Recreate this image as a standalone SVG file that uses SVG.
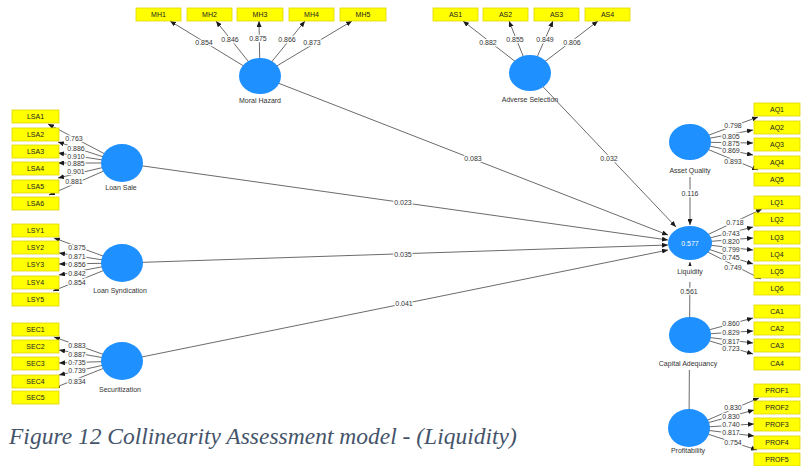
<svg xmlns="http://www.w3.org/2000/svg" width="811" height="466" viewBox="0 0 811 466">
<style>
  .ln { stroke: #5a5a5a; stroke-width: 0.9; fill: none; marker-end: url(#tip); }
  .val { font-family: "Liberation Sans", Arial, sans-serif; font-size: 7px; fill: #333; text-anchor: middle; stroke: #fff; stroke-width: 2.6; paint-order: stroke; }
  .ind rect { fill: #ffff00; stroke: #e0d400; stroke-width: 0.8; }
  .ind text { font-family: "Liberation Sans", Arial, sans-serif; font-size: 7px; fill: #222; text-anchor: middle; }
  .lv ellipse { fill: #1e90ff; }
  .lv text { font-family: "Liberation Sans", Arial, sans-serif; font-size: 7px; fill: #333; text-anchor: middle; }
  .lv rect { fill: #fff; }
  .cap { font-family: "Liberation Serif", "Times New Roman", serif; font-style: italic; font-size: 23.5px; fill: #44546a; }
</style>
<defs>
  <marker id="tip" markerUnits="userSpaceOnUse" markerWidth="6" markerHeight="5" refX="6" refY="2.5" orient="auto">
    <path d="M0,0 L6,2.5 L0,5 z" fill="#1a1a1a"/>
  </marker>
</defs>
<rect width="811" height="466" fill="#fff"/>

<g id="connectors">
  <!-- Moral Hazard indicators -->
  <line class="ln" x1="260" y1="76" x2="170" y2="21"/>
  <line class="ln" x1="260" y1="76" x2="216" y2="21"/>
  <line class="ln" x1="260" y1="76" x2="259" y2="21"/>
  <line class="ln" x1="260" y1="76" x2="305" y2="21"/>
  <line class="ln" x1="260" y1="76" x2="352" y2="21"/>
  <!-- Adverse Selection indicators -->
  <line class="ln" x1="530" y1="73" x2="463" y2="21"/>
  <line class="ln" x1="530" y1="73" x2="509" y2="21"/>
  <line class="ln" x1="530" y1="73" x2="553" y2="21"/>
  <line class="ln" x1="530" y1="73" x2="598" y2="21"/>
  <!-- Loan Sale indicators -->
  <line class="ln" x1="122" y1="163" x2="48" y2="124"/>
  <line class="ln" x1="122" y1="163" x2="58" y2="142"/>
  <line class="ln" x1="122" y1="163" x2="58" y2="153"/>
  <line class="ln" x1="122" y1="163" x2="58" y2="163"/>
  <line class="ln" x1="122" y1="163" x2="58" y2="178"/>
  <line class="ln" x1="122" y1="163" x2="49" y2="195"/>
  <!-- Loan Syndication indicators -->
  <line class="ln" x1="122" y1="263" x2="54" y2="238"/>
  <line class="ln" x1="122" y1="263" x2="59" y2="253"/>
  <line class="ln" x1="122" y1="263" x2="59" y2="264"/>
  <line class="ln" x1="122" y1="263" x2="59" y2="275"/>
  <line class="ln" x1="122" y1="263" x2="53" y2="291"/>
  <!-- Securitization indicators -->
  <line class="ln" x1="122" y1="361" x2="54" y2="337"/>
  <line class="ln" x1="122" y1="361" x2="59" y2="350"/>
  <line class="ln" x1="122" y1="361" x2="59" y2="363"/>
  <line class="ln" x1="122" y1="361" x2="59" y2="375"/>
  <line class="ln" x1="122" y1="361" x2="54" y2="388"/>
  <!-- Asset Quality indicators -->
  <line class="ln" x1="690" y1="142" x2="758" y2="117"/>
  <line class="ln" x1="690" y1="142" x2="753" y2="130"/>
  <line class="ln" x1="690" y1="142" x2="753" y2="143"/>
  <line class="ln" x1="690" y1="142" x2="753" y2="155"/>
  <line class="ln" x1="690" y1="142" x2="758" y2="170"/>
  <!-- Liquidity indicators -->
  <line class="ln" x1="690" y1="243" x2="762" y2="209"/>
  <line class="ln" x1="690" y1="243" x2="753" y2="227"/>
  <line class="ln" x1="690" y1="243" x2="753" y2="238"/>
  <line class="ln" x1="690" y1="243" x2="753" y2="250"/>
  <line class="ln" x1="690" y1="243" x2="753" y2="264"/>
  <line class="ln" x1="690" y1="243" x2="761" y2="279"/>
  <!-- Capital Adequancy indicators -->
  <line class="ln" x1="690" y1="335" x2="753" y2="318"/>
  <line class="ln" x1="690" y1="335" x2="753" y2="331"/>
  <line class="ln" x1="690" y1="335" x2="753" y2="343"/>
  <line class="ln" x1="690" y1="335" x2="753" y2="354"/>
  <!-- Profitability indicators -->
  <line class="ln" x1="689" y1="428" x2="759" y2="398"/>
  <line class="ln" x1="689" y1="428" x2="754" y2="410"/>
  <line class="ln" x1="689" y1="428" x2="754" y2="424"/>
  <line class="ln" x1="689" y1="428" x2="754" y2="436"/>
  <line class="ln" x1="689" y1="428" x2="757" y2="450"/>
  <!-- structural paths into Liquidity -->
  <line class="ln" x1="260" y1="76" x2="668" y2="235"/>
  <line class="ln" x1="530" y1="73" x2="676" y2="227"/>
  <line class="ln" x1="122" y1="163" x2="668" y2="240"/>
  <line class="ln" x1="122" y1="263" x2="668" y2="245"/>
  <line class="ln" x1="122" y1="361" x2="668" y2="250"/>
  <line class="ln" x1="690" y1="150" x2="690" y2="225"/>
  <line class="ln" x1="689" y1="428" x2="690" y2="262"/>

  <!-- path coefficients and loadings -->
  <text class="val" x="204" y="44.5">0.854</text>
  <text class="val" x="230" y="41.5">0.846</text>
  <text class="val" x="258" y="40.5">0.875</text>
  <text class="val" x="287" y="41.5">0.866</text>
  <text class="val" x="312" y="44.5">0.873</text>

  <text class="val" x="488" y="44.5">0.882</text>
  <text class="val" x="515" y="41.5">0.855</text>
  <text class="val" x="545" y="41.5">0.849</text>
  <text class="val" x="572" y="44.5">0.806</text>

  <text class="val" x="74" y="140.5">0.763</text>
  <text class="val" x="76" y="150.5">0.886</text>
  <text class="val" x="76" y="158.5">0.910</text>
  <text class="val" x="76" y="165.5">0.885</text>
  <text class="val" x="76" y="173.5">0.901</text>
  <text class="val" x="74" y="183.5">0.881</text>

  <text class="val" x="77" y="249.5">0.875</text>
  <text class="val" x="77" y="258.5">0.871</text>
  <text class="val" x="77" y="266.5">0.856</text>
  <text class="val" x="77" y="275.5">0.842</text>
  <text class="val" x="77" y="284.5">0.854</text>

  <text class="val" x="77" y="347.5">0.883</text>
  <text class="val" x="77" y="356.5">0.887</text>
  <text class="val" x="77" y="364.5">0.735</text>
  <text class="val" x="77" y="372.5">0.739</text>
  <text class="val" x="77" y="383.5">0.834</text>

  <text class="val" x="733" y="127.5">0.798</text>
  <text class="val" x="731" y="138.5">0.805</text>
  <text class="val" x="731" y="145.5">0.875</text>
  <text class="val" x="731" y="152.5">0.869</text>
  <text class="val" x="733" y="163.5">0.893</text>

  <text class="val" x="735" y="224.5">0.718</text>
  <text class="val" x="731" y="235.5">0.743</text>
  <text class="val" x="731" y="243.5">0.820</text>
  <text class="val" x="731" y="251.5">0.799</text>
  <text class="val" x="731" y="259.5">0.745</text>
  <text class="val" x="733" y="269.5">0.749</text>

  <text class="val" x="731" y="325.5">0.860</text>
  <text class="val" x="731" y="334.5">0.829</text>
  <text class="val" x="731" y="343.5">0.817</text>
  <text class="val" x="731" y="350.5">0.723</text>

  <text class="val" x="733" y="409.5">0.830</text>
  <text class="val" x="731" y="418.5">0.830</text>
  <text class="val" x="731" y="426.5">0.740</text>
  <text class="val" x="731" y="434.5">0.817</text>
  <text class="val" x="733" y="444.5">0.754</text>

  <text class="val" x="473" y="160.5">0.083</text>
  <text class="val" x="609" y="160.5">0.032</text>
  <text class="val" x="403" y="204.5">0.023</text>
  <text class="val" x="403" y="256.5">0.035</text>
  <text class="val" x="404" y="305.5">0.041</text>
  <text class="val" x="690" y="195.5">0.116</text>
  <text class="val" x="689" y="293.5">0.561</text>
</g>

<!-- latent variables -->
<g id="moral-hazard" class="lv">
  <ellipse cx="260" cy="76" rx="21" ry="18"/>
  <text x="260" y="102.5">Moral Hazard</text>
</g>
<g id="adverse-selection" class="lv">
  <ellipse cx="530" cy="73" rx="21" ry="18"/>
  <text x="530" y="101.5">Adverse Selection</text>
</g>
<g id="loan-sale" class="lv">
  <ellipse cx="122" cy="163" rx="21" ry="19"/>
  <text x="121" y="189.5">Loan Sale</text>
</g>
<g id="loan-syndication" class="lv">
  <ellipse cx="122" cy="263" rx="21" ry="19"/>
  <text x="120" y="292.5">Loan Syndication</text>
</g>
<g id="securitization" class="lv">
  <ellipse cx="122" cy="361" rx="21" ry="19"/>
  <text x="120" y="391.5">Securitization</text>
</g>
<g id="asset-quality" class="lv">
  <ellipse cx="690" cy="142" rx="21" ry="18"/>
  <rect x="665" y="160" width="50" height="17"/>
  <text x="690" y="172.5">Asset Quality</text>
</g>
<g id="liquidity" class="lv">
  <ellipse cx="690" cy="243" rx="22" ry="17"/>
  <text x="690" y="245.5" style="fill:#fff">0.577</text>
  <rect x="672" y="266" width="36" height="16"/>
  <text x="690" y="273.5">Liquidity</text>
</g>
<g id="capital-adequancy" class="lv">
  <ellipse cx="690" cy="335" rx="21" ry="18"/>
  <rect x="656" y="353" width="66" height="17"/>
  <text x="688" y="365.5">Capital Adequancy</text>
</g>
<g id="profitability" class="lv">
  <ellipse cx="689" cy="428" rx="21" ry="19"/>
  <text x="688" y="452.5">Profitability</text>
</g>

<!-- indicators -->
<g id="MH1" class="ind"><rect x="136" y="8" width="45" height="13"/><text x="158.5" y="17">MH1</text></g>
<g id="MH2" class="ind"><rect x="187" y="8" width="45" height="13"/><text x="209.5" y="17">MH2</text></g>
<g id="MH3" class="ind"><rect x="237" y="8" width="46" height="13"/><text x="260" y="17">MH3</text></g>
<g id="MH4" class="ind"><rect x="289" y="8" width="45" height="13"/><text x="311.5" y="17">MH4</text></g>
<g id="MH5" class="ind"><rect x="340" y="8" width="46" height="13"/><text x="363" y="17">MH5</text></g>

<g id="AS1" class="ind"><rect x="433" y="8" width="45" height="13"/><text x="455.5" y="17">AS1</text></g>
<g id="AS2" class="ind"><rect x="483" y="8" width="45" height="13"/><text x="505.5" y="17">AS2</text></g>
<g id="AS3" class="ind"><rect x="534" y="8" width="45" height="13"/><text x="556.5" y="17">AS3</text></g>
<g id="AS4" class="ind"><rect x="585" y="8" width="45" height="13"/><text x="607.5" y="17">AS4</text></g>

<g id="LSA1" class="ind"><rect x="12" y="110" width="47" height="13"/><text x="35.5" y="119">LSA1</text></g>
<g id="LSA2" class="ind"><rect x="12" y="128" width="47" height="13"/><text x="35.5" y="137">LSA2</text></g>
<g id="LSA3" class="ind"><rect x="12" y="145" width="47" height="13"/><text x="35.5" y="154">LSA3</text></g>
<g id="LSA4" class="ind"><rect x="12" y="162" width="47" height="13"/><text x="35.5" y="171">LSA4</text></g>
<g id="LSA5" class="ind"><rect x="12" y="180" width="47" height="13"/><text x="35.5" y="189">LSA5</text></g>
<g id="LSA6" class="ind"><rect x="12" y="197" width="47" height="13"/><text x="35.5" y="206">LSA6</text></g>

<g id="LSY1" class="ind"><rect x="12" y="224" width="47" height="13"/><text x="35.5" y="233">LSY1</text></g>
<g id="LSY2" class="ind"><rect x="12" y="241" width="47" height="13"/><text x="35.5" y="250">LSY2</text></g>
<g id="LSY3" class="ind"><rect x="12" y="258" width="47" height="13"/><text x="35.5" y="267">LSY3</text></g>
<g id="LSY4" class="ind"><rect x="12" y="276" width="47" height="13"/><text x="35.5" y="285">LSY4</text></g>
<g id="LSY5" class="ind"><rect x="12" y="293" width="47" height="13"/><text x="35.5" y="302">LSY5</text></g>

<g id="SEC1" class="ind"><rect x="12" y="323" width="47" height="13"/><text x="35.5" y="332">SEC1</text></g>
<g id="SEC2" class="ind"><rect x="12" y="340" width="47" height="13"/><text x="35.5" y="349">SEC2</text></g>
<g id="SEC3" class="ind"><rect x="12" y="357" width="47" height="13"/><text x="35.5" y="366">SEC3</text></g>
<g id="SEC4" class="ind"><rect x="12" y="375" width="47" height="13"/><text x="35.5" y="384">SEC4</text></g>
<g id="SEC5" class="ind"><rect x="12" y="391" width="47" height="13"/><text x="35.5" y="400">SEC5</text></g>

<g id="AQ1" class="ind"><rect x="754" y="103" width="46" height="13"/><text x="777" y="112">AQ1</text></g>
<g id="AQ2" class="ind"><rect x="754" y="121" width="46" height="13"/><text x="777" y="130">AQ2</text></g>
<g id="AQ3" class="ind"><rect x="754" y="138" width="46" height="13"/><text x="777" y="147">AQ3</text></g>
<g id="AQ4" class="ind"><rect x="754" y="156" width="46" height="13"/><text x="777" y="165">AQ4</text></g>
<g id="AQ5" class="ind"><rect x="754" y="173" width="46" height="13"/><text x="777" y="182">AQ5</text></g>

<g id="LQ1" class="ind"><rect x="754" y="196" width="46" height="13"/><text x="777" y="205">LQ1</text></g>
<g id="LQ2" class="ind"><rect x="754" y="213" width="46" height="13"/><text x="777" y="222">LQ2</text></g>
<g id="LQ3" class="ind"><rect x="754" y="231" width="46" height="13"/><text x="777" y="240">LQ3</text></g>
<g id="LQ4" class="ind"><rect x="754" y="248" width="46" height="13"/><text x="777" y="257">LQ4</text></g>
<g id="LQ5" class="ind"><rect x="754" y="265" width="46" height="13"/><text x="777" y="274">LQ5</text></g>
<g id="LQ6" class="ind"><rect x="754" y="282" width="46" height="13"/><text x="777" y="291">LQ6</text></g>

<g id="CA1" class="ind"><rect x="754" y="305" width="46" height="13"/><text x="777" y="314">CA1</text></g>
<g id="CA2" class="ind"><rect x="754" y="322" width="46" height="13"/><text x="777" y="331">CA2</text></g>
<g id="CA3" class="ind"><rect x="754" y="339" width="46" height="13"/><text x="777" y="348">CA3</text></g>
<g id="CA4" class="ind"><rect x="754" y="357" width="46" height="13"/><text x="777" y="366">CA4</text></g>

<g id="PROF1" class="ind"><rect x="754" y="384" width="46" height="13"/><text x="777" y="393">PROF1</text></g>
<g id="PROF2" class="ind"><rect x="754" y="401" width="46" height="13"/><text x="777" y="410">PROF2</text></g>
<g id="PROF3" class="ind"><rect x="754" y="418" width="46" height="13"/><text x="777" y="427">PROF3</text></g>
<g id="PROF4" class="ind"><rect x="754" y="436" width="46" height="13"/><text x="777" y="445">PROF4</text></g>
<g id="PROF5" class="ind"><rect x="754" y="453" width="46" height="13"/><text x="777" y="462">PROF5</text></g>

<text class="cap" x="9" y="444">Figure 12 Collinearity Assessment model - (Liquidity)</text>
</svg>
